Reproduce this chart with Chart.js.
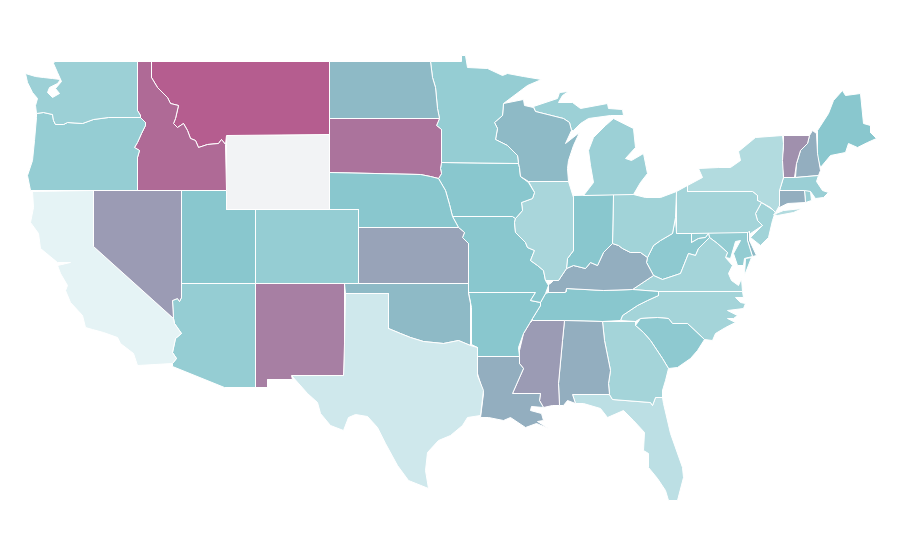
<!DOCTYPE html>
<html>
<head>
<meta charset="utf-8">
<title>US states</title>
<script src="https://cdn.jsdelivr.net/npm/chart.js@4"></script>
<style>
    body { margin: 0; background: #fff; }
</style>
</head>
<body>
<canvas id="myMap" width="900" height="560"></canvas>
<script>
//my data
const stateNames = [
    'Washington', 'Oregon', 'Idaho', 'Montana', 'Wyoming', 'Nevada', 'California', 'Utah', 'Arizona', 'Colorado',
    'New Mexico', 'Texas', 'Oklahoma', 'Kansas', 'Nebraska', 'South Dakota', 'North Dakota', 'Minnesota', 'Wisconsin',
    'Michigan Upper', 'Michigan', 'Iowa', 'Illinois', 'Indiana', 'Ohio', 'Kentucky', 'Missouri', 'Arkansas',
    'Louisiana', 'Mississippi', 'Alabama', 'Georgia', 'South Carolina', 'Florida', 'Tennessee', 'North Carolina',
    'Virginia', 'Virginia Eastern Shore', 'West Virginia', 'Maryland', 'Delaware', 'Pennsylvania', 'New York',
    'Long Island', 'New Jersey', 'Connecticut', 'Rhode Island', 'Massachusetts', 'Vermont', 'New Hampshire', 'Maine'
]
// null = no data (Wyoming)
const stateValues = [
    32, 35, 89, 96, null, 63, 2, 40, 35, 35,
    78, 11, 47, 59, 40, 84, 47, 35, 47,
    32, 32, 40, 27, 40, 30, 53, 40, 40,
    53, 63, 53, 29, 38, 19, 40, 29,
    29, 36, 38, 36, 47, 29, 23,
    23, 30, 53, 33, 33, 69, 53, 40
]
// outlines, x,y pairs on the map grid, same order as stateNames
const stateOutlines = [
    [54,61, 137,61, 137,110, 140,115, 140,117, 108,117, 93,119, 82,123, 67,122, 63,124, 55,124, 53,120, 52,114, 43,112, 36,113, 35,105, 37,98, 32,92, 27,82, 25,73, 35,76, 43,77, 52,78, 60,79, 57,83, 49,87, 47,92, 52,97, 59,93, 55,88, 61,81, 57,72, 53,63],
    [36,113, 43,112, 52,114, 53,120, 55,124, 63,124, 67,122, 82,123, 93,119, 108,117, 140,117, 145,122, 145,125, 141,133, 137,142, 134,147, 139,150, 137,157, 137,190, 30,190, 27,175, 32,160, 34,140, 36,117],
    [137,61, 151,61, 151,77, 157,87, 167,97, 170,103, 178,105, 175,118, 173,123, 177,127, 183,123, 187,130, 190,138, 195,140, 198,147, 207,144, 218,143, 221,139, 225,144, 226,190, 137,190, 137,157, 139,150, 134,147, 137,142, 141,133, 145,125, 145,122, 140,117, 140,115, 137,110],
    [151,61, 329,61, 329,134, 226,135, 225,144, 221,139, 218,143, 207,144, 198,147, 195,140, 190,138, 187,130, 183,123, 177,127, 173,123, 175,118, 178,105, 170,103, 167,97, 157,87, 151,77],
    [226,135, 329,134, 329,209, 226,209],
    [93,190, 181,190, 181,297, 179,301, 177,298, 172,300, 173,318, 93,246],
    [32,191, 93,190, 93,246, 173,318, 174,323, 181,333, 175,338, 172,352, 176,358, 172,363, 137,365, 133,353, 120,343, 117,337, 103,332, 92,329, 85,327, 82,315, 70,302, 65,290, 67,285, 60,273, 57,265, 70,262, 57,262, 40,248, 38,233, 30,222, 33,207],
    [181,190, 226,190, 226,209, 255,209, 255,283, 181,283],
    [181,283, 255,283, 255,387, 224,387, 172,366, 172,363, 176,358, 172,352, 175,338, 181,333, 174,323, 173,318, 172,300, 177,298, 179,301, 181,297],
    [255,209, 358,209, 358,283, 255,283],
    [255,283, 344,283, 344,343, 343,375, 291,375, 292,379, 267,379, 267,387, 255,387],
    [345,293, 388,293, 388,328, 400,333, 410,337, 423,341, 443,343, 458,340, 470,345, 477,347, 477,375, 483,390, 480,415, 467,417, 462,425, 450,435, 438,440, 427,452, 425,470, 428,488, 408,480, 397,465, 385,443, 377,427, 367,416, 355,414, 348,417, 343,430, 330,425, 320,413, 317,402, 307,393, 291,375, 343,375, 344,343],
    [344,283, 468,283, 468,293, 470,303, 470,345, 458,340, 443,343, 423,341, 410,337, 400,333, 388,328, 388,293, 345,293],
    [358,227, 458,227, 464,232, 462,237, 468,243, 468,283, 358,283],
    [329,172, 420,174, 430,176, 438,178, 445,190, 449,204, 452,216, 458,227, 358,227, 358,209, 329,209],
    [329,118, 439,118, 436,125, 441,129, 441,162, 440,168, 441,173, 438,178, 430,176, 420,174, 329,172],
    [329,61, 430,61, 432,77, 435,87, 437,108, 439,118, 329,118],
    [430,61, 461,61, 461,55, 465,55, 467,67, 487,68, 502,75, 507,73, 523,76, 541,79, 527,85, 503,103, 502,115, 494,122, 497,128, 495,139, 507,145, 517,155, 518,163, 441,162, 441,129, 436,125, 439,118, 437,108, 435,87, 432,77],
    [503,103, 523,99, 524,105, 533,107, 535,111, 563,118, 569,122, 571,130, 565,143, 579,132, 573,145, 568,160, 567,168, 568,181, 528,181, 520,176, 519,167, 518,163, 517,155, 507,145, 495,139, 497,128, 494,122, 502,115],
    [533,106, 557,98, 559,92, 568,91, 562,95, 558,102, 572,102, 580,108, 607,103, 608,108, 622,109, 623,115, 610,115, 588,118, 580,123, 573,130, 571,130, 569,122, 563,118, 535,111],
    [613,118, 633,128, 635,147, 625,158, 631,160, 643,153, 647,173, 640,182, 633,194, 583,195, 593,182, 590,165, 588,150, 593,137, 605,125],
    [441,162, 518,163, 519,167, 520,176, 528,182, 534,192, 532,198, 521,202, 522,210, 515,218, 512,216, 452,216, 449,204, 445,190, 438,178, 441,173, 440,168],
    [528,181, 568,181, 573,197, 573,250, 567,258, 566,268, 558,280, 545,280, 543,270, 537,265, 530,260, 534,250, 527,247, 525,242, 515,232, 514,222, 515,218, 522,210, 521,202, 532,198, 534,192],
    [573,195, 613,194, 612,243, 603,252, 597,265, 590,262, 585,268, 573,265, 566,268, 567,258, 573,250],
    [613,194, 633,194, 645,197, 660,197, 676,191, 675,217, 672,233, 660,240, 653,245, 647,257, 640,252, 630,252, 622,248, 618,245, 612,243],
    [548,292, 565,292, 566,288, 603,290, 632,289, 653,275, 646,262, 647,257, 640,252, 630,252, 622,248, 618,245, 612,243, 603,252, 597,265, 590,262, 585,268, 573,265, 566,268, 558,280, 555,278, 550,283, 548,284],
    [452,216, 512,216, 515,218, 514,222, 515,232, 525,242, 527,247, 534,250, 530,260, 537,265, 543,270, 545,280, 548,285, 545,293, 540,302, 530,300, 535,292, 468,292, 468,243, 462,237, 464,232, 458,227],
    [468,292, 535,292, 530,300, 540,302, 540,305, 532,318, 529,323, 523,333, 518,347, 519,356, 477,356, 477,347, 471,344, 471,307],
    [477,356, 519,356, 519,363, 523,368, 512,393, 540,393, 539,400, 543,407, 531,406, 530,410, 541,413, 543,420, 537,421, 548,428, 536,423, 525,427, 510,417, 503,420, 488,417, 480,417, 483,393, 477,373],
    [532,320, 564,320, 562,340, 558,383, 559,405, 552,405, 543,407, 539,400, 540,393, 512,393, 523,368, 519,363, 519,350, 523,333, 529,323],
    [564,320, 602,321, 604,340, 610,370, 608,383, 609,394, 572,394, 575,403, 567,400, 563,405, 559,405, 558,383, 562,340],
    [602,321, 635,321, 635,325, 643,332, 650,340, 662,358, 668,368, 665,380, 662,390, 662,397, 655,397, 652,405, 650,402, 612,399, 609,394, 608,383, 610,370, 604,340],
    [635,325, 640,318, 657,317, 668,318, 672,323, 687,323, 704,339, 697,350, 690,358, 677,367, 668,368, 662,358, 650,340, 643,332],
    [572,394, 609,394, 612,399, 650,402, 652,405, 655,397, 662,397, 663,403, 670,433, 682,467, 683,477, 677,500, 668,500, 665,490, 657,478, 648,467, 648,453, 643,450, 644,432, 633,420, 623,410, 607,417, 600,408, 583,403, 575,403],
    [548,292, 566,291, 566,288, 603,290, 632,289, 658,291, 658,295, 647,300, 637,305, 622,315, 620,320, 602,321, 564,320, 532,320, 532,318, 540,305, 540,302, 545,293],
    [658,291, 742,291, 743,297, 735,297, 740,302, 745,303, 743,308, 727,310, 737,315, 733,318, 727,318, 735,322, 725,327, 715,333, 712,340, 704,339, 687,323, 672,323, 668,318, 657,317, 640,318, 635,321, 620,320, 622,315, 637,305, 647,300, 658,295],
    [632,289, 653,275, 662,279, 680,273, 688,253, 695,255, 698,248, 709,237, 717,243, 727,252, 725,257, 732,265, 728,273, 731,280, 738,285, 741,278, 742,291, 658,291],
    [745,258, 751,257, 744,275],
    [675,217, 676,233, 691,233, 691,242, 698,238, 705,237, 708,233, 709,237, 698,248, 695,255, 688,253, 680,273, 662,279, 653,275, 646,262, 647,257, 653,245, 660,240, 672,233],
    [691,233, 747,232, 747,240, 752,256, 744,258, 743,265, 737,265, 733,253, 740,240, 735,241, 730,258, 725,257, 727,252, 717,243, 709,237, 708,233, 705,237, 698,238, 691,242],
    [747,232, 749,231, 749,240, 756,255, 752,256, 747,240],
    [676,191, 687,185, 687,191, 752,191, 757,195, 757,200, 761,202, 755,213, 757,220, 762,225, 750,233, 676,233],
    [687,185, 702,177, 698,168, 718,167, 730,167, 740,160, 738,151, 755,137, 782,135, 783,143, 782,160, 783,177, 779,190, 779,205, 775,212, 770,207, 761,202, 757,200, 757,195, 752,191, 687,191],
    [773,214, 783,210, 802,208, 793,212, 777,215],
    [761,202, 775,211, 772,220, 768,237, 760,245, 750,237, 762,225, 757,220, 755,213],
    [779,190, 804,190, 805,202, 787,203, 777,208, 779,205],
    [804,190, 810,191, 811,200, 805,202],
    [783,177, 795,177, 818,175, 816,181, 822,190, 828,192, 823,197, 815,198, 810,191, 779,190],
    [783,135, 809,135, 807,143, 800,150, 796,163, 794,177, 783,177, 781,160, 783,147],
    [809,135, 812,130, 816,133, 817,153, 820,170, 818,175, 795,177, 796,163, 800,150, 807,143],
    [817,130, 828,113, 833,100, 842,90, 845,95, 860,93, 863,123, 870,125, 870,132, 876,138, 867,142, 857,147, 848,143, 845,152, 830,155, 820,167, 817,157]
]
// colour ramp, value -> rgb
const rampStops = [0, 40, 100]
const rampColors = [[234, 245, 247], [137, 199, 206], [184, 85, 138]]
const noDataColor = '#f2f3f5'

function valueColor(value) {
    if (value === null) return noDataColor
    const i = value < rampStops[1] ? 0 : 1
    const t = (value - rampStops[i]) / (rampStops[i + 1] - rampStops[i])
    const rgb = rampColors[i].map((c, k) => Math.round(c + (rampColors[i + 1][k] - c) * t))
    return `rgb(${rgb.join(',')})`
}

function outlinePoints(outline) {
    const points = []
    for (let i = 0; i < outline.length; i += 2) {
        points.push({ x: outline[i], y: outline[i + 1] })
    }
    points.push(points[0])  // close the shape
    return points
}

// config
const configMap = {
    type: 'scatter',
    data: {
        datasets: stateNames.map((name, i) => ({
            label: name,
            data: outlinePoints(stateOutlines[i]),
            showLine: true,
            fill: 'shape',
            backgroundColor: valueColor(stateValues[i]),
            borderColor: '#ffffff',
            borderWidth: 1,
            borderJoinStyle: 'bevel',
            pointRadius: 0,
            pointHitRadius: 0,
            tension: 0,
        }))
    },
    options: {
        responsive: false,
        animation: false,
        layout: { padding: 0 },
        plugins: {
            legend: { display: false },
            tooltip: { enabled: false },
        },
        scales: {
            // half unit offset keeps the straight borders on one pixel row
            x: { type: 'linear', min: -0.5, max: 899.5, display: false },
            y: { type: 'linear', min: -0.5, max: 559.5, reverse: true, display: false },
        },
    },
}
// render
const myMap = new Chart(document.getElementById('myMap'), configMap)
</script>
</body>
</html>
